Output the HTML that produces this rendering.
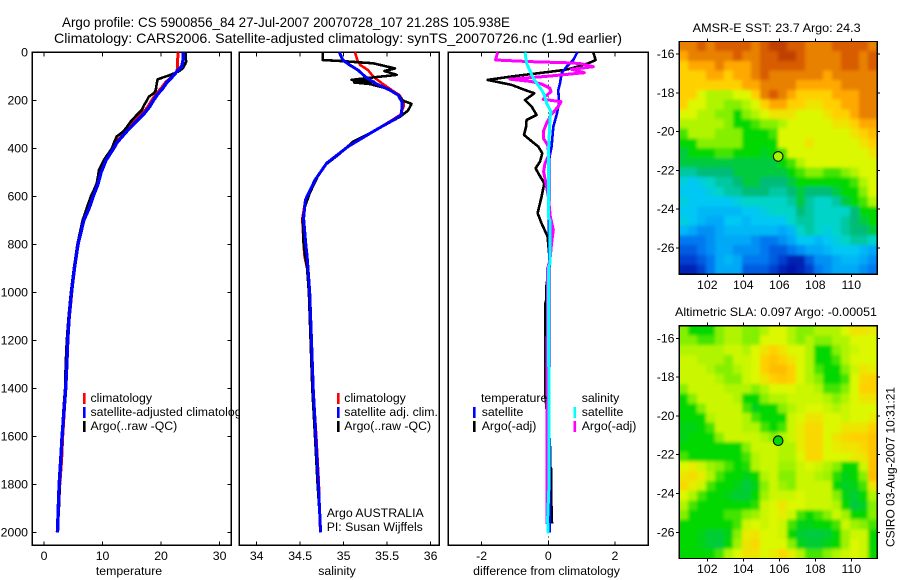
<!DOCTYPE html>
<html>
<head>
<meta charset="utf-8">
<title>Argo profile 5900856_84</title>
<style>
html,body{margin:0;padding:0;background:#fff;}
svg{display:block;}
text{font-family:"Liberation Sans",sans-serif;fill:#000;}
</style>
</head>
<body>
<svg id="chart" xmlns="http://www.w3.org/2000/svg" width="900" height="580" viewBox="0 0 900 580">
<defs>
<filter id="map-smooth" x="-10%" y="-10%" width="120%" height="120%"><feGaussianBlur stdDeviation="1.6"/></filter>
</defs>
<rect x="0" y="0" width="900" height="580" fill="#ffffff"/>
<text x="62" y="27" font-size="14" textLength="448" lengthAdjust="spacingAndGlyphs">Argo profile: CS 5900856_84 27-Jul-2007 20070728_107 21.28S 105.938E</text>
<text x="54" y="43" font-size="14" textLength="568" lengthAdjust="spacingAndGlyphs">Climatology: CARS2006. Satellite-adjusted climatology: synTS_20070726.nc (1.9d earlier)</text>
</svg>
<script>
/* ---------- profile data ---------- */
var depthTicks = [0,200,400,600,800,1000,1200,1400,1600,1800,2000];
var tempTicks = [0,10,20,30];
var salTicks = [34,34.5,35,35.5,36];
var diffTicks = [-2,0,2];
var lonTicks = [102,104,106,108,110];
var latTicks = [-16,-18,-20,-22,-24,-26];

var tDepth = [0,30,60,80,100,125,150,175,200,225,250,275,300,325,350,375,400,450,500,550,600,650,700,800,900,1000,1100,1200,1300,1400,1500,1600,1700,1800,1900,2000];
var tempClim = [22.9,22.85,22.85,22.7,21.9,20.8,20,19.1,18.4,17.8,17,16,15,14.1,13.2,12.3,11.7,10.5,9.6,9.1,8.3,7.6,6.8,5.8,5.2,4.75,4.35,4,3.85,3.7,3.45,3.2,3,2.7,2.5,2.25];
var tempSat = [23.8,23.8,23.5,22.7,22,21,20.3,19.4,18.7,18.1,17.3,16.3,15.3,14.3,13.4,12.5,11.9,10.6,9.75,9.2,8.4,7.7,6.8,5.8,5.2,4.7,4.3,4.05,3.9,3.7,3.4,3.1,2.85,2.6,2.45,2.3];
var tArgoDepth = [0,10,20,30,39,50,67,80,95,105,113,125,140,157,170,185,200,220,240,265,289,317,335,351,375,400,425,448,470,490,520,546,575,601,650,700,800,900,1000,1100,1200,1300,1400,1500,1600,1700,1800,1900,1960];
var tempArgo = [24.2,24.2,24.2,24.25,24.3,24.1,23.7,23,21.5,20.3,19.4,19.3,19.2,19.1,18.8,17.9,17.6,17.1,16.7,15.7,14.8,14,13.3,12.4,12,11.6,10.9,10.25,9.8,9.4,9.2,9,8.5,8,7.3,6.6,5.7,5.1,4.6,4.2,3.9,3.7,3.6,3.3,3.1,2.9,2.7,2.55,2.4];

var sDepth = [0,32,53,74,101,129,157,178,206,226,261,282,330,393,462,532,615,692,800,850,900,1000,1200,1400,1600,1800,2000];
var salClim = [35.13,35.157,35.19,35.28,35.34,35.44,35.55,35.64,35.69,35.69,35.65,35.56,35.34,35.05,34.805,34.67,34.56,34.525,34.54,34.55,34.58,34.61,34.63,34.65,34.685,34.715,34.73];
var salSat = [34.95,34.99,35.07,35.165,35.245,35.36,35.53,35.625,35.67,35.67,35.665,35.57,35.34,35.05,34.805,34.67,34.56,34.54,34.565,34.58,34.59,34.61,34.63,34.65,34.68,34.71,34.735];
var sArgoDepth = [0,32,37,46,67,78,94,104,115,122,126,132,150,178,201,215,243,268,330,372,421,469,518,587,643,692,800,900,1000,1200,1400,1600,1800,1960];
var salArgo = [34.76,34.76,35,35.34,35.59,35.47,35.61,35.35,35.09,35.35,35.12,35.3,35.49,35.63,35.68,35.78,35.74,35.65,35.34,35.11,34.96,34.79,34.7,34.61,34.555,34.53,34.54,34.58,34.6,34.62,34.64,34.67,34.7,34.73];

var dTSatDepth = [0,32,60,87,129,157,212,261,310,393,449,700,1000,1400,1800,2000];
var diffTSat = [0.87,0.75,0.55,0.4,0.35,0.3,0.32,0.25,0.15,0.1,0.02,0.02,0.03,0.03,0.04,0.04];
var dTArgoDepth = [0,32,46,67,74,101,115,136,157,171,199,226,261,282,312,344,365,393,421,456,483,504,546,601,671,713,768,880,976,1032,1046,1136,1428,1657,1727,1734,1831,1963];
var diffTArgo = [1.35,1.42,1.2,0.7,0.45,-1.1,-1.82,-1.1,-0.7,-0.42,-0.7,-0.5,-0.35,-0.65,-0.67,-0.73,-0.55,-0.3,-0.18,-0.25,-0.38,-0.3,-0.12,-0.2,-0.32,-0.2,-0.02,0.05,-0.06,-0.06,-0.09,-0.09,-0.09,0.06,0.06,0.08,0.08,0.11];
var dSSatDepth = [0,46,87,115,157,178,212,247,275,365,435,685,700,879,900,1143,1400,1800,1950,2004];
var diffSSat = [-0.7,-0.65,-0.52,-0.42,-0.2,-0.12,-0.05,0.08,0.05,0.02,0,0,0.05,0.05,0,0,0.02,0.02,-0.02,0];
var dSArgoDepth = [0,32,39,44,48,60,71,85,101,112,122,132,150,164,185,196,206,226,261,296,330,358,386,428,462,497,539,601,685,740,795,865,900,1400,1965];
var diffSArgo = [-1.52,-1.58,-0.5,0.7,1,1.35,0.7,1.08,-0.1,-1.15,-0.5,-0.2,0.05,0.08,-0.1,-0.15,0.38,0.3,0.08,-0.05,-0.15,-0.15,-0.02,0.02,-0.1,-0.14,-0.08,0,0.06,0.15,0.1,0.05,-0.02,-0.04,-0.04];

/* ---------- map data (colour level per 0.5 degree cell, north to south) ---------- */
var sstGrid = [
[12,12,13,12,13,13,13,13,12,13,14,14,13,13,12,12,12,13,13,13,13,12],
[11,12,12,12,12,12,13,12,12,13,13,14,14,13,12,12,12,12,13,13,12,13],
[10,11,11,11,12,11,11,11,12,13,13,13,13,13,12,12,12,12,13,13,12,13],
[10,10,10,11,11,10,11,11,12,13,12,12,12,12,12,12,11,12,12,12,12,12],
[10,10,10,10,10,10,10,11,11,12,12,12,12,11,11,11,11,11,12,12,12,12],
[10,10,9,8.5,8.5,8.5,9,9,10,12,13,12,11,10,10,10,10,11,11,11,12,12],
[10,9,9,8.5,8.5,8,8,8.5,9,10,11,11,10,10,9.5,9.5,10,10,11,11,12,12],
[9,9,8.5,8.5,8,8,7,8,8.5,9,9.5,9.5,9.5,9,9,9,9.5,10,10,11,12,12],
[8.5,8.5,8.5,8.5,8.5,8,7,7,7.5,8,8,8.5,9,9,9,9,9,9.5,9.5,10,11,11],
[7.5,8.5,8.5,8.5,8,8,8,7,7,7,7.5,9,9,9,9,9,9,9,9,9.5,10,10.5],
[7,7,8,8,8,8,8,7,7,7,7,9,9,9,9.5,9,9,9,9,9,9.5,10],
[6.5,7,7,7,7.5,7.5,7,7,7,6.7,7,7.5,9,9,9,9,9,9,9,9,9,9.5],
[6.5,6.5,6.5,6.5,6.5,6.5,6.5,6.5,6.5,6.5,6.5,7,7.5,8.5,9,9,9,9,9,9,9,9],
[5.5,5.5,6,6,6,6,6.5,6.5,6.5,6.5,6.5,6.5,7,7.5,8,8,7.5,7.5,8,8.5,9,9],
[4.5,4,4.5,5,5.5,5.5,6,6.5,6.5,6,6,6,6.5,7,7,7,7,7,7,7.5,8.5,9],
[4,4,4,4.5,5,5.5,5.5,6,6,6,5.5,5.5,6,6.5,6,6,6,6.5,7,7,8,9],
[4.5,4,4,4,4,4,4.5,5,5,5,5,5,5.5,6.5,5.5,5,5,5.5,6.5,7,7.5,8.5],
[4,4,3.5,3.5,3.5,3.5,3.5,4,4,4.5,5,5,5,6,5.5,5,5,5,5,6,7,7],
[4.5,4,3.5,3,3,4,4,3.5,4,4,4,4,5,5.5,5.5,5,5,5,5.5,6,6.5,7],
[3.5,3,2.5,2.5,3,3.5,3.5,3.5,3.5,3.5,3.5,3,3.5,5,5.5,5,4.5,5,5.5,6,6,6.5],
[2,2,2,2.5,3,3,3,3,2.5,2,2,2.5,3,4,4,3.5,4,4.5,5,5.5,5.5,5],
[1.5,1.5,2,2.5,3,3,2.5,2.5,2.5,2,1.5,1.5,2,2.5,3,3,3.5,4,4,4,3.5,3],
[1,1,1.5,2,3,3.5,3,2,2,2,1.5,1,0.5,0.5,1.5,2.5,2.5,3,3.5,3.5,3,2.5],
[0.5,0.5,1,2,3,3,3,1.5,1.5,1.5,1,0.5,0.3,0.5,1,2,2.5,3,3,3,2.5,2]
];
var slaGrid = [
[8,7,7,7,8,8.5,8.5,8,8,8.5,9,9,8.5,8,8,8.5,8.5,8.5,9,9.5,9.5,9.3],
[8,8,7.5,7.5,8,8.5,8.5,8,8,9,9,9,8.5,8,8.5,8,8,8.5,8.5,9,9,9],
[8.5,8.5,8.5,8.5,8.5,8.8,8.8,8.5,9,9.5,10,9.5,9,9,8.5,7,7,8,8.5,8.8,9,9],
[8.8,8.8,8.5,8.5,8.5,8,8.8,8.8,9,10,10.3,10,9.5,9,8.5,7,7,7.5,8.5,9,9,9],
[8.8,8.8,8.8,8.5,8,8,8.5,8.8,9,10,10.5,10.5,10,9,8.5,7.5,7,7,8,8.8,9.5,9.3],
[8.8,8.8,8.8,8.8,8.5,8,8,8.8,9,9.5,10,10.2,10,9,8.5,8,7,7,7.5,9,9.8,10],
[8,8.8,8.8,8.8,8.8,8.5,8.5,8.5,8,8.5,9,9,9,8.8,8.8,8.5,7.5,7.5,8,9,10,10],
[7,8,8.8,8.8,8.8,8.8,8.5,7,7,8,8.5,8.5,8.8,8.8,8.8,8.8,8.5,8,8.5,9,9.5,9.5],
[7,7,8,8.8,8.8,8.8,8.8,7.5,6.8,7,7,8,8.5,8.8,9,9,8.8,8.5,8.8,9,9,9],
[7,7,7,8.5,8.8,8.8,8.8,8.5,7.5,7,7,7,8.8,9,9.5,9.5,9,9,8.8,9,9,9.3],
[6.8,6.8,7,7.5,8.8,8.8,8.8,8.5,8.5,7.5,7,7.5,8.8,9.3,9.8,9.8,9,9,9.5,9.5,9.5,10],
[6.8,7,7,7,8,8.8,8.8,8.8,8.8,8.5,8,8.5,8.8,9.3,9.8,9.8,9,9.5,9.8,10,10,10.3],
[7,7,7,7,7,7,7,8,8.8,8.8,8.8,8.5,8.5,9.3,9.8,9.8,9,9.3,9.5,9.5,9.8,10.3],
[7.5,7,7,7,7,7,7,7.5,8.5,8.8,8.8,8.5,8.5,9,9.8,9.8,9,9,9,9.3,9.5,10.3],
[9,9.3,8.8,8.3,8,7.5,7,7.2,8.5,8.8,8.8,8.3,8.3,8.8,9,8.8,8.5,8,7,7,8.8,10.4],
[9.5,9.7,9.3,8.5,7.5,7,7,6.8,7,8.5,8.8,8,8,8.8,8.8,8.5,8.3,7.3,6.8,7,8,10.5],
[9.8,9.3,8.8,7.5,7,7,6.8,6.5,6.8,8,8.8,8.3,8,8.8,8.8,8.8,8.8,7,6.7,6.8,7.5,9.5],
[9,8.5,7.5,7,7,6.8,6.6,6.6,7,8.3,8.8,8.8,8.8,9,8.8,8.8,8.8,8,6.8,6.6,7,8.5],
[8.5,7.5,7,7,7,7,7,7,7.3,8.8,9,9.5,9,9,8.8,8.8,8.8,8.5,7,6.5,6.7,8],
[8,7,7,7,7,7.5,7.5,8,8.3,8.8,9,9.3,8.8,7.5,7,7.5,8,8.8,8.3,7,7,8],
[7,7,7,7,7,7,7.5,8.8,9,8.8,9,8.8,7.5,6.8,6.8,7,7,7.5,8.8,8.3,8,7.5],
[7,7,6.8,6.6,6.6,6.8,8,9.3,9.5,9,9,8.8,7,6.6,6.5,6.5,6.6,7,8.3,8.8,8.8,7],
[7,7,6.8,6.6,6.5,7,8.3,9.5,9.8,9,9,9,8,6.8,6.6,6.6,6.8,7,8.3,9,8.8,7],
[7,7,7,7,7.5,8.5,9,9.6,9.5,9,9.3,9.8,9.3,8.5,7.5,7.5,8,8.5,8.8,9,8.8,7]
];
var argoLon = [105.938];
var argoLat = [-21.28];
var sstMarkerLevel = [8.4];
var slaMarkerLevel = [6.9];

var palette = ["#00009a","#0040d0","#0078f0","#00a8f8","#00c8f4","#00d4c8","#00bc78","#00d800","#84f000","#dcf800","#ffd000","#ffa800","#e88000","#d85c00","#c04000"];

/* ---------- helpers ---------- */
var svg = document.getElementById('chart');
var NS = 'http://www.w3.org/2000/svg';
function make(tag, attrs, parent) {
  var el = document.createElementNS(NS, tag);
  for (var k in attrs) { el.setAttribute(k, attrs[k]); }
  (parent || svg).appendChild(el);
  return el;
}
function hexToRgb(h) {
  return [parseInt(h.substr(1,2),16), parseInt(h.substr(3,2),16), parseInt(h.substr(5,2),16)];
}
function levelColor(v) {
  var i = Math.max(0, Math.min(palette.length - 1.001, v));
  var f = Math.floor(i);
  var a = hexToRgb(palette[f]);
  var b = hexToRgb(palette[f + 1]);
  var t = i - f;
  return 'rgb(' + Math.round(a[0] + (b[0] - a[0]) * t) + ',' + Math.round(a[1] + (b[1] - a[1]) * t) + ',' + Math.round(a[2] + (b[2] - a[2]) * t) + ')';
}
function label(name, x, y, str, size, anchor) {
  var t = make('text', {x: x, y: y, 'font-size': size || 12.3, 'text-anchor': anchor || 'start'});
  
  
  t.textContent = str;
  return t;
}
function tickLine(name, x1, y1, x2, y2) {
  var l = make('line', {x1: x1, y1: y1, x2: x2, y2: y2, stroke: '#000', 'stroke-width': 1, 'shape-rendering': 'crispEdges'});
  
  
  return l;
}

/* ---------- profile axes ---------- */
var plotTop = 52.3, plotBottom = 545.3;
function yDepth(d) { return plotTop + d * 0.24; }
function xTemp(t) { return 32.3 + (t + 2) * (199 / 34); }
function xSal(s) { return 239.3 + (s - 33.8) * (200 / 2.3); }
function xDiff(v) { return 448.3 + (v + 3) * (200 / 6); }

function drawFrame(name, left, right, xs, xTicks, xFn, xTitle, xTitleCenter, hasDepth) {
  var bg = make('rect', {x: left, y: plotTop, width: right - left, height: plotBottom - plotTop, fill: '#fff', stroke: '#000', 'stroke-width': 1.4, 'shape-rendering': 'crispEdges'});
  
  
  xTicks.forEach(function (t) {
    var x = xFn(t);
    tickLine(name + '-x-tick', x, plotBottom, x, plotBottom - 4);
    tickLine(name + '-x-tick-top', x, plotTop, x, plotTop + 4);
    label(name + '-x-tick-label', x, 560, String(t), 12.3, 'middle');
  });
  label(name + '-x-axis-title', xTitleCenter, 575, xTitle, 12.3, 'middle');
  if (hasDepth) {
    depthTicks.forEach(function (d) {
      var y = yDepth(d);
      tickLine(name + '-y-tick', left, y, left + 4, y);
      tickLine(name + '-y-tick-right', right, y, right - 4, y);
      label(name + '-y-tick-label', 28, y + 4, String(d), 12.3, 'end');
    });
  }
}
function drawLine(name, depths, values, xFn, color, width) {
  var pts = [];
  for (var i = 0; i < depths.length && i < values.length; i++) {
    pts.push(xFn(values[i]).toFixed(1) + ',' + yDepth(depths[i]).toFixed(1));
  }
  var p = make('polyline', {points: pts.join(' '), fill: 'none', stroke: color, 'stroke-width': width, 'stroke-linejoin': 'round', 'shape-rendering': 'crispEdges'});
  
  
}
function legendBar(name, x, y, color) {
  var r = make('rect', {x: x, y: y, width: 2.6, height: 11, fill: color});
  
  
}

/* temperature panel */
drawFrame('temperature-panel', 32.3, 231.3, null, tempTicks, xTemp, 'temperature', 129, true);
drawLine('temperature-climatology-line', tDepth, tempClim, xTemp, '#ff0000', 3);
drawLine('temperature-argo-line', tArgoDepth, tempArgo, xTemp, '#000000', 2.6);
drawLine('temperature-satellite-line', tDepth, tempSat, xTemp, '#0000ff', 3.4);
legendBar('legend-swatch-climatology', 83, 393, '#ff0000');
legendBar('legend-swatch-satellite-adjusted', 83, 407, '#0000ff');
legendBar('legend-swatch-argo', 83, 421, '#000000');
label('legend-label-climatology', 90.5, 402, 'climatology');
label('legend-label-satellite-adjusted', 90.5, 416, 'satellite-adjusted climatology');
label('legend-label-argo', 90.5, 430, 'Argo(..raw -QC)');

/* salinity panel */
drawFrame('salinity-panel', 239.3, 439.3, null, salTicks, xSal, 'salinity', 337, false);
drawLine('salinity-climatology-line', sDepth, salClim, xSal, '#ff0000', 2.6);
drawLine('salinity-argo-line', sArgoDepth, salArgo, xSal, '#000000', 2.6);
drawLine('salinity-satellite-line', sDepth, salSat, xSal, '#0000ff', 3);
legendBar('salinity-legend-swatch-climatology', 337, 393, '#ff0000');
legendBar('salinity-legend-swatch-satellite', 337, 407, '#0000ff');
legendBar('salinity-legend-swatch-argo', 337, 421, '#000000');
label('salinity-legend-label-climatology', 344.3, 402, 'climatology');
label('salinity-legend-label-satellite', 344.3, 416, 'satellite adj. clim.');
label('salinity-legend-label-argo', 344.3, 430, 'Argo(..raw -QC)');
label('float-owner-label', 326.7, 517, 'Argo AUSTRALIA');
label('principal-investigator-label', 326.7, 531, 'PI: Susan Wijffels');

/* difference panel */
drawFrame('difference-panel', 448.3, 648.3, null, diffTicks, xDiff, 'difference from climatology', 546.5, false);
var zeroLine = make('line', {x1: xDiff(0), y1: plotTop, x2: xDiff(0), y2: plotBottom, stroke: '#000', 'stroke-width': 1, 'stroke-dasharray': '1 3', 'shape-rendering': 'crispEdges'});


drawLine('diff-temperature-argo-line', dTArgoDepth, diffTArgo, xDiff, '#000000', 2.6);
drawLine('diff-temperature-satellite-line', dTSatDepth, diffTSat, xDiff, '#0000ff', 2.6);
drawLine('diff-salinity-argo-line', dSArgoDepth, diffSArgo, xDiff, '#ff00ff', 3);
drawLine('diff-salinity-satellite-line', dSSatDepth, diffSSat, xDiff, '#00ffff', 3);
label('diff-legend-heading-temperature', 481, 402, 'temperature');
legendBar('diff-legend-swatch-temp-satellite', 473, 407, '#0000ff');
legendBar('diff-legend-swatch-temp-argo', 473, 421, '#000000');
label('diff-legend-label-temp-satellite', 481.7, 416, 'satellite');
label('diff-legend-label-temp-argo', 481.7, 430, 'Argo(-adj)');
label('diff-legend-heading-salinity', 581.7, 402, 'salinity');
legendBar('diff-legend-swatch-sal-satellite', 573.5, 407, '#00ffff');
legendBar('diff-legend-swatch-sal-argo', 573.5, 421, '#ff00ff');
label('diff-legend-label-sal-satellite', 581.7, 416, 'satellite');
label('diff-legend-label-sal-argo', 581.7, 430, 'Argo(-adj)');

/* ---------- maps ---------- */
function xLon(lon) { return 707.3 + (lon - 102) * 18; }
function drawMap(name, grid, lat16Y, markerLevel, titleText, titleX, titleWidth, titleY, tickLabelY) {
  var yLat = function (lat) { return lat16Y + (-16 - lat) * 19.4; };
  var lonStart = 100.44, latStart = -15.35, step = 0.5;
  var top = yLat(latStart), bottom = yLat(latStart - grid.length * step);
  var left = xLon(lonStart), right = xLon(lonStart + grid[0].length * step);
  var defs = svg.querySelector('defs');
  var clip = make('clipPath', {id: name + '-clip'}, defs);
  make('rect', {x: left, y: top, width: right - left, height: bottom - top}, clip);
  var clipGroup = make('g', {'clip-path': 'url(#' + name + '-clip)'});
  
  
  var cellGroup = make('g', {filter: 'url(#map-smooth)'}, clipGroup);
  
  
  grid.forEach(function (row, r) {
    row.forEach(function (v, c) {
      var x0 = xLon(lonStart + c * step), x1 = xLon(lonStart + (c + 1) * step);
      var y0 = yLat(latStart - r * step), y1 = yLat(latStart - (r + 1) * step);
      if (c === 0) { x0 -= 14; }
      if (c === row.length - 1) { x1 += 14; }
      if (r === 0) { y0 -= 14; }
      if (r === grid.length - 1) { y1 += 14; }
      var cell = make('rect', {x: x0.toFixed(2), y: y0.toFixed(2), width: (x1 - x0 + 0.3).toFixed(2), height: (y1 - y0 + 0.3).toFixed(2), fill: levelColor(v), 'shape-rendering': 'crispEdges'}, cellGroup);
      
      
    });
  });
  var frame = make('rect', {x: left, y: top, width: right - left, height: bottom - top, fill: 'none', stroke: '#000', 'stroke-width': 1.2, 'shape-rendering': 'crispEdges'});
  
  
  lonTicks.forEach(function (lon) {
    var x = xLon(lon);
    tickLine(name + '-x-tick', x, bottom, x, bottom + 3);
    tickLine(name + '-x-tick-top', x, top, x, top - 3);
    label(name + '-x-tick-label', x, tickLabelY, String(lon), 12.3, 'middle');
  });
  latTicks.forEach(function (lat) {
    var y = yLat(lat);
    tickLine(name + '-y-tick', left, y, left - 3, y);
    tickLine(name + '-y-tick-right', right, y, right + 3, y);
    label(name + '-y-tick-label', 674.5, y + 4, String(lat), 12.3, 'end');
  });
  var marker = make('circle', {cx: xLon(argoLon[0]), cy: yLat(argoLat[0]), r: 4.8, fill: levelColor(markerLevel[0]), stroke: '#000', 'stroke-width': 1});
  
  
  var t = label(name + '-title', titleX, titleY, titleText, 12);
  t.setAttribute('textLength', titleWidth);
  t.setAttribute('lengthAdjust', 'spacingAndGlyphs');
}
drawMap('sst-map', sstGrid, 54, sstMarkerLevel, 'AMSR-E SST: 23.7 Argo: 24.3', 692.7, 168, 32, 289);
drawMap('sla-map', slaGrid, 338.3, slaMarkerLevel, 'Altimetric SLA: 0.097 Argo: -0.00051', 675, 202, 316, 573);

var stamp = label('csiro-timestamp', 0, 0, 'CSIRO 03-Aug-2007 10:31:21', 12);
stamp.setAttribute('transform', 'translate(894.5,547) rotate(-90)');
stamp.setAttribute('textLength', '160');
stamp.setAttribute('lengthAdjust', 'spacingAndGlyphs');
</script>
</body>
</html>
